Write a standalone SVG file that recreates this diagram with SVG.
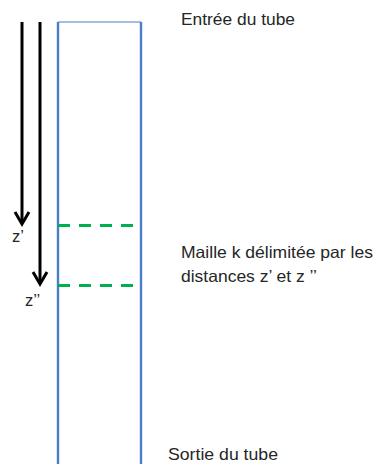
<svg xmlns="http://www.w3.org/2000/svg" width="376" height="464" viewBox="0 0 376 464">
<style>
.t{font-family:"Liberation Sans",Arial,sans-serif;font-size:16.5px;fill:#262626}
.tube{fill:none;stroke:#4A7EC4;stroke-width:2.4}
.dash{stroke:#00B050;stroke-width:3;stroke-dasharray:12 9}
.arr{fill:none;stroke:#000;stroke-width:3}
</style>
<rect width="376" height="464" fill="#fff"/>
<g id="tube">
<line class="tube" x1="58" y1="22" x2="58" y2="464"/>
<line class="tube" x1="141" y1="22" x2="141" y2="464"/>
<line x1="58" y1="22" x2="141" y2="22" stroke="#4A7EC4" stroke-width="1.2"/>
</g>
<g id="mesh">
<line class="dash" x1="58" y1="225.5" x2="137" y2="225.5"/>
<line class="dash" x1="58" y1="285.5" x2="137" y2="285.5"/>
</g>
<g id="connectors">
<line class="arr" x1="22" y1="22" x2="22" y2="223"/>
<polyline class="arr" points="15,212 22,224 29,212"/>
<line class="arr" x1="40" y1="22" x2="40" y2="283"/>
<polyline class="arr" points="33,272 40,284 47,272"/>
</g>
<g id="labels">
<text class="t" x="12" y="242">z’</text>
<text class="t" x="25" y="306">z’’</text>
<text class="t" x="181" y="25" textLength="114" lengthAdjust="spacingAndGlyphs">Entrée du tube</text>
<text class="t" x="181" y="258" textLength="192" lengthAdjust="spacingAndGlyphs">Maille k délimitée par les</text>
<text class="t" x="181" y="282" textLength="136" lengthAdjust="spacingAndGlyphs">distances z’ et z ’’</text>
<text class="t" x="168" y="460" textLength="110" lengthAdjust="spacingAndGlyphs">Sortie du tube</text>
</g>
</svg>
